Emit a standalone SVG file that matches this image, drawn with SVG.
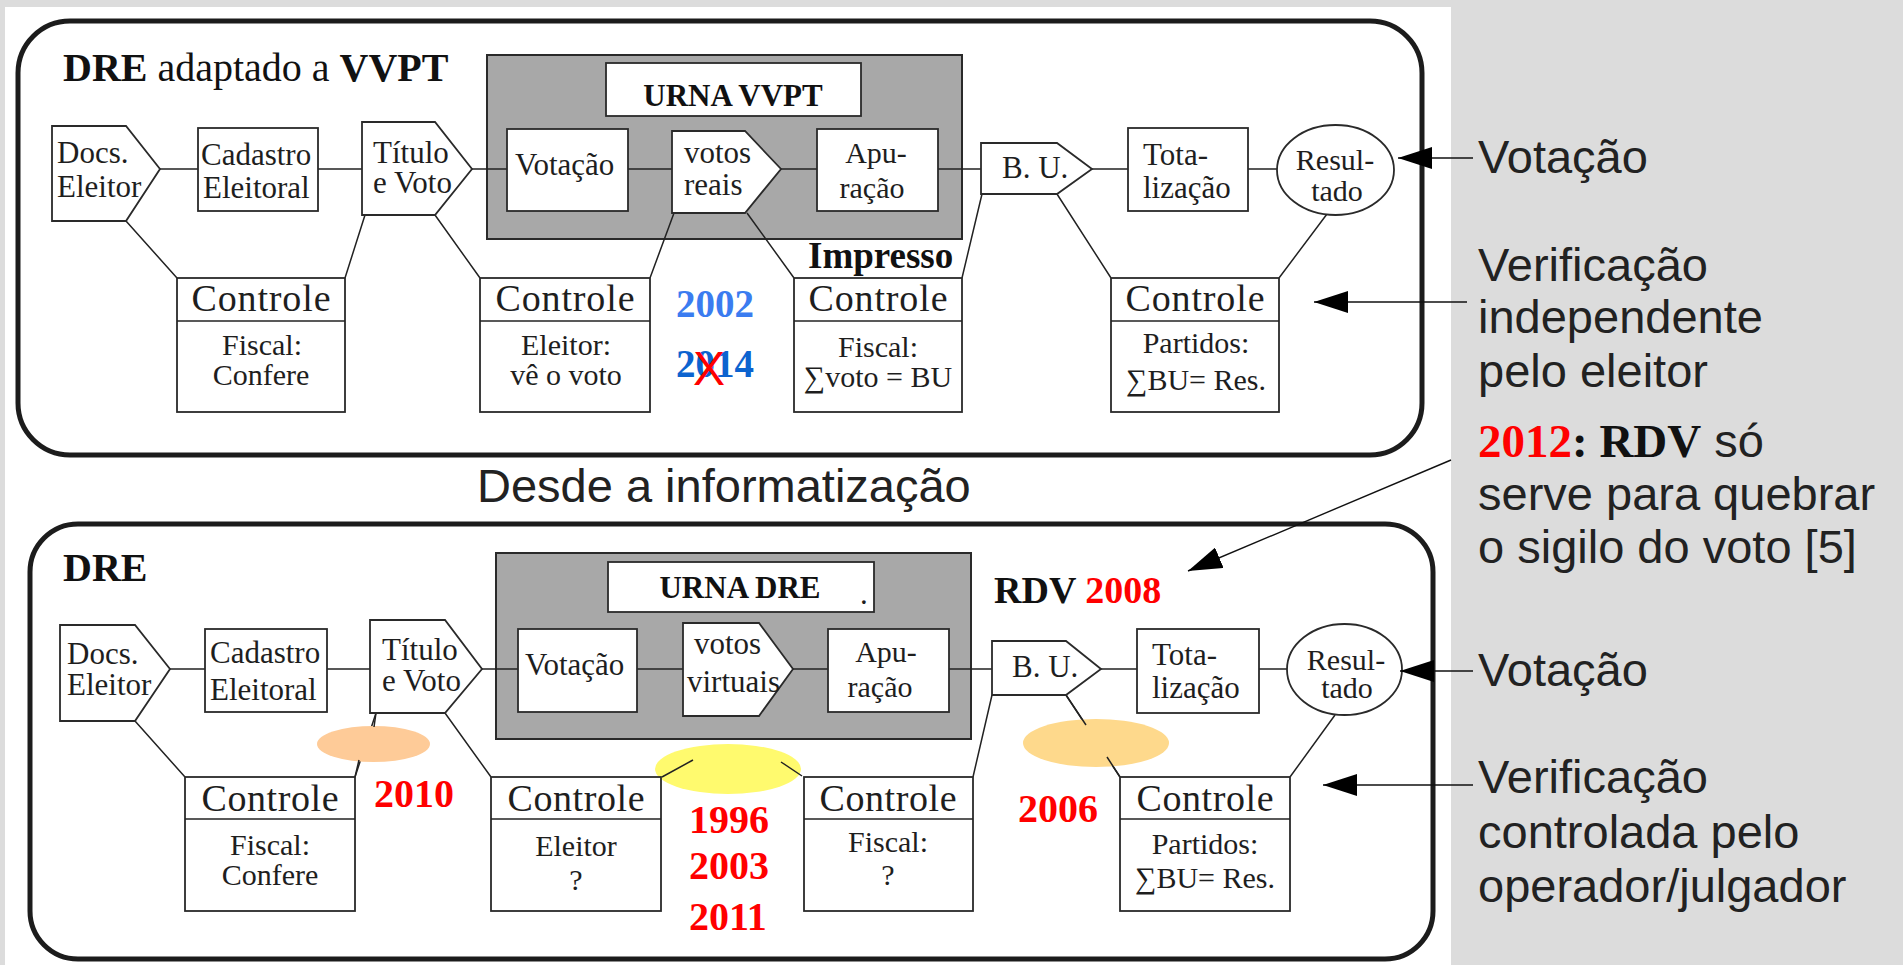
<svg xmlns="http://www.w3.org/2000/svg" width="1903" height="965" viewBox="0 0 1903 965">
<style>
.t{font-family:"Liberation Serif","Times New Roman",serif;font-size:31px;fill:#1e1e1e}
.tm{font-family:"Liberation Serif","Times New Roman",serif;font-size:30px;fill:#1e1e1e;text-anchor:middle}
.hd{font-family:"Liberation Serif","Times New Roman",serif;font-size:38px;fill:#1e1e1e;text-anchor:middle}
.bd{font-family:"Liberation Serif","Times New Roman",serif;font-weight:bold;fill:#111}
.yr{font-family:"Liberation Serif","Times New Roman",serif;font-weight:bold;font-size:40px;fill:#ff0000}
.sn{font-family:"Liberation Sans",Arial,sans-serif;font-size:47px;fill:#222}
.n{fill:#fff;stroke:#2a2a2a;stroke-width:1.8}
.urna{fill:#a8a8a8;stroke:#2a2a2a;stroke-width:2}
.panel{fill:none;stroke:#1c1c1c;stroke-width:5}
.ln{fill:none;stroke:#222;stroke-width:1.5}
.ar{fill:none;stroke:#111;stroke-width:1.4}
</style>
<defs>
<marker id="ah" markerUnits="userSpaceOnUse" markerWidth="34" markerHeight="22" refX="34" refY="11" orient="auto">
<path d="M0,0 L34,11 L0,22 Z" fill="#000"/>
</marker>
</defs>
<rect x="0" y="0" width="1903" height="965" fill="#dcdcdc"/>
<rect x="5" y="7" width="1446" height="958" fill="#fff"/>

<g id="panel-top">
<rect class="panel" x="18" y="21" width="1404" height="434" rx="52"/>
<text class="bd" x="63" y="81" font-size="40">DRE<tspan font-weight="normal"> adaptado a </tspan>VVPT</text>
</g>
<g id="panel-bottom">
<rect class="panel" x="30" y="524" width="1403" height="435" rx="48"/>
<text class="bd" x="63" y="581" font-size="40">DRE</text>
</g>
<text class="sn" x="477" y="502">Desde a informatização</text>

<g id="urna-vvpt">
<rect class="urna" x="487" y="55" width="475" height="184"/>
<rect class="n" x="606" y="63" width="255" height="53"/>
<text class="bd" x="733" y="106" font-size="31" text-anchor="middle">URNA VVPT</text>
</g>
<g id="urna-dre">
<rect class="urna" x="496" y="553" width="475" height="186"/>
<rect class="n" x="608" y="562" width="266" height="50"/>
<text class="bd" x="740" y="598" font-size="31" text-anchor="middle">URNA DRE</text>
<text class="t" x="860" y="604" font-size="20">.</text>
</g>

<g id="connectors">
<path class="ln" d="M160,169H198 M318,169H362 M472,169H507 M628,169H672 M781,169H817 M938,169H981 M1092,169H1128 M1248,169H1277"/>
<path class="ln" d="M126,221L177,278 M365,215L345,278 M435,215L480,278 M674,213L650,278 M747,213L794,278 M982,194L962,278 M1057,194L1111,278 M1327,214L1279,278"/>
<path class="ln" d="M170,669H205 M327,669H370 M482,669H518 M637,669H683 M793,669H828 M949,669H992 M1101,669H1137 M1259,669H1287"/>
<path class="ln" d="M135,721L185,777 M376,713L355,777 M445,713L491,777 M992,695L973,777 M1066,695L1120,777 M1335,715L1290,777"/>
</g>

<g id="highlights">
<ellipse cx="373.5" cy="744" rx="56.5" ry="18" fill="#fecb98"/>
<ellipse cx="728" cy="769" rx="73" ry="25" fill="#fffa6e"/>
<ellipse cx="1096" cy="743" rx="73" ry="24" fill="#fed98c"/>
</g>
<g id="connector-stubs">
<path class="ln" d="M662,777L693,760 M781,762L802,776 M1066,695L1086,725 M1107,757L1120,777 M376,713L374,727 M359,760L355,777"/>
</g>

<g id="t-docs"><path class="n" d="M52,126H126L160,169L126,221H52Z"/><text class="t" x="57" y="163">Docs.</text><text class="t" x="57" y="197">Eleitor</text></g>
<g id="t-cadastro"><rect class="n" x="198" y="128" width="120" height="83"/><text class="t" x="201" y="165">Cadastro</text><text class="t" x="203" y="198">Eleitoral</text></g>
<g id="t-titulo"><path class="n" d="M362,122H435L472,169L435,215H362Z"/><text class="t" x="373" y="163">Título</text><text class="t" x="373" y="193">e Voto</text></g>
<g id="t-votacao"><rect class="n" x="507" y="129" width="121" height="82"/><text class="t" x="515" y="175">Votação</text></g>
<g id="t-votos"><path class="n" d="M672,131H745L781,169L745,213H672Z"/><text class="t" x="684" y="163" font-size="29">votos</text><text class="t" x="684" y="195" font-size="29">reais</text></g>
<g id="t-apuracao"><rect class="n" x="817" y="129" width="121" height="82"/><text class="tm" x="876" y="163" font-size="31">Apu-</text><text class="tm" x="872" y="198" font-size="31">ração</text></g>
<g id="t-bu"><path class="n" d="M981,143H1057L1092,169L1057,194H981Z"/><text class="t" x="1002" y="178" font-size="26">B. U.</text></g>
<g id="t-total"><rect class="n" x="1128" y="128" width="120" height="83"/><text class="t" x="1143" y="165" font-size="32">Tota-</text><text class="t" x="1143" y="198" font-size="32">lização</text></g>
<g id="t-result"><ellipse class="n" cx="1335.5" cy="170" rx="58.5" ry="45"/><text class="tm" x="1335" y="170" font-size="28">Resul-</text><text class="tm" x="1337" y="201" font-size="28">tado</text></g>

<g id="t-ctrl1"><rect class="n" x="177" y="278" width="168" height="134"/><path class="ln" d="M177,321H345"/><text class="hd" x="261" y="311" textLength="139" lengthAdjust="spacing">Controle</text><text class="tm" x="262" y="355">Fiscal:</text><text class="tm" x="261" y="385">Confere</text></g>
<g id="t-ctrl2"><rect class="n" x="480" y="278" width="170" height="134"/><path class="ln" d="M480,321H650"/><text class="hd" x="565" y="311" textLength="139" lengthAdjust="spacing">Controle</text><text class="tm" x="566" y="355">Eleitor:</text><text class="tm" x="566" y="385">vê o voto</text></g>
<g id="t-ctrl3"><rect class="n" x="794" y="278" width="168" height="134"/><path class="ln" d="M794,321H962"/><text class="hd" x="878" y="311" textLength="139" lengthAdjust="spacing">Controle</text><text class="tm" x="878" y="357">Fiscal:</text><text class="tm" x="878" y="387">∑voto = BU</text></g>
<g id="t-ctrl4"><rect class="n" x="1111" y="278" width="168" height="134"/><path class="ln" d="M1111,321H1279"/><text class="hd" x="1195" y="311" textLength="139" lengthAdjust="spacing">Controle</text><text class="tm" x="1196" y="353">Partidos:</text><text class="tm" x="1196" y="390">∑BU= Res.</text></g>

<g id="t-notes">
<text class="bd" x="808" y="268" font-size="37">Impresso</text>
<text class="bd" x="676" y="317" font-size="39" style="fill:#3b7cf0">2002</text>
<text class="bd" x="676" y="377" font-size="39" style="fill:#0c63cf">2014</text>
<text x="693" y="385" font-family="Liberation Sans, Arial, sans-serif" font-size="48" fill="#ff0000">X</text>
</g>

<g id="b-docs"><path class="n" d="M60,625H135L170,669L135,721H60Z"/><text class="t" x="67" y="664">Docs.</text><text class="t" x="67" y="695">Eleitor</text></g>
<g id="b-cadastro"><rect class="n" x="205" y="629" width="122" height="83"/><text class="t" x="210" y="663">Cadastro</text><text class="t" x="210" y="700">Eleitoral</text></g>
<g id="b-titulo"><path class="n" d="M370,620H445L482,669L445,713H370Z"/><text class="t" x="382" y="660">Título</text><text class="t" x="382" y="691">e Voto</text></g>
<g id="b-votacao"><rect class="n" x="518" y="629" width="119" height="83"/><text class="t" x="525" y="675">Votação</text></g>
<g id="b-votos"><path class="n" d="M683,623H759L793,669L759,716H683Z"/><text class="t" x="694" y="654" font-size="29">votos</text><text class="t" x="687" y="692" font-size="29">virtuais</text></g>
<g id="b-apuracao"><rect class="n" x="828" y="629" width="121" height="83"/><text class="tm" x="886" y="662" font-size="31">Apu-</text><text class="tm" x="880" y="697" font-size="31">ração</text></g>
<g id="b-bu"><path class="n" d="M992,641H1066L1101,669L1066,695H992Z"/><text class="t" x="1012" y="677" font-size="26">B. U.</text></g>
<g id="b-total"><rect class="n" x="1137" y="629" width="122" height="84"/><text class="t" x="1152" y="665" font-size="32">Tota-</text><text class="t" x="1152" y="698" font-size="32">lização</text></g>
<g id="b-result"><ellipse class="n" cx="1344.5" cy="669.5" rx="57.5" ry="45.5"/><text class="tm" x="1346" y="670" font-size="28">Resul-</text><text class="tm" x="1347" y="698" font-size="28">tado</text></g>

<g id="b-ctrl1"><rect class="n" x="185" y="777" width="170" height="134"/><path class="ln" d="M185,819H355"/><text class="hd" x="270" y="811" textLength="137" lengthAdjust="spacing">Controle</text><text class="tm" x="270" y="855">Fiscal:</text><text class="tm" x="270" y="885">Confere</text></g>
<g id="b-ctrl2"><rect class="n" x="491" y="777" width="170" height="134"/><path class="ln" d="M491,819H661"/><text class="hd" x="576" y="811" textLength="137" lengthAdjust="spacing">Controle</text><text class="tm" x="576" y="856">Eleitor</text><text class="tm" x="576" y="890">?</text></g>
<g id="b-ctrl3"><rect class="n" x="804" y="777" width="169" height="134"/><path class="ln" d="M804,819H973"/><text class="hd" x="888" y="811" textLength="137" lengthAdjust="spacing">Controle</text><text class="tm" x="888" y="852">Fiscal:</text><text class="tm" x="888" y="885">?</text></g>
<g id="b-ctrl4"><rect class="n" x="1120" y="777" width="170" height="134"/><path class="ln" d="M1120,819H1290"/><text class="hd" x="1205" y="811" textLength="137" lengthAdjust="spacing">Controle</text><text class="tm" x="1205" y="854">Partidos:</text><text class="tm" x="1205" y="888">∑BU= Res.</text></g>

<g id="b-notes">
<text class="yr" x="374" y="807">2010</text>
<text class="yr" x="689" y="833">1996</text>
<text class="yr" x="689" y="879">2003</text>
<text class="yr" x="689" y="930">2011</text>
<text class="yr" x="1018" y="822">2006</text>
<text class="bd" x="994" y="603" font-size="38">RDV <tspan fill="#ff0000">2008</tspan></text>
</g>

<g id="arrows">
<path class="ar" d="M1473,158H1398" marker-end="url(#ah)"/>
<path class="ar" d="M1467,302H1314" marker-end="url(#ah)"/>
<path class="ar" d="M1451,460L1188,571" marker-end="url(#ah)"/>
<path class="ar" d="M1473,671H1400" marker-end="url(#ah)"/>
<path class="ar" d="M1473,785H1323" marker-end="url(#ah)"/>
</g>

<g id="side-labels">
<text class="sn" x="1478" y="173">Votação</text>
<text class="sn" x="1478" y="281">Verificação</text>
<text class="sn" x="1478" y="333">independente</text>
<text class="sn" x="1478" y="387">pelo eleitor</text>
<text class="sn" x="1478" y="457"><tspan font-family="Liberation Serif, Times New Roman, serif" font-weight="bold" fill="#ff0000">2012</tspan><tspan font-family="Liberation Serif, Times New Roman, serif" font-weight="bold" fill="#111">: RDV</tspan> só</text>
<text class="sn" x="1478" y="510">serve para quebrar</text>
<text class="sn" x="1478" y="563">o sigilo do voto [5]</text>
<text class="sn" x="1478" y="686">Votação</text>
<text class="sn" x="1478" y="793">Verificação</text>
<text class="sn" x="1478" y="848">controlada pelo</text>
<text class="sn" x="1478" y="902">operador/julgador</text>
</g>
</svg>
